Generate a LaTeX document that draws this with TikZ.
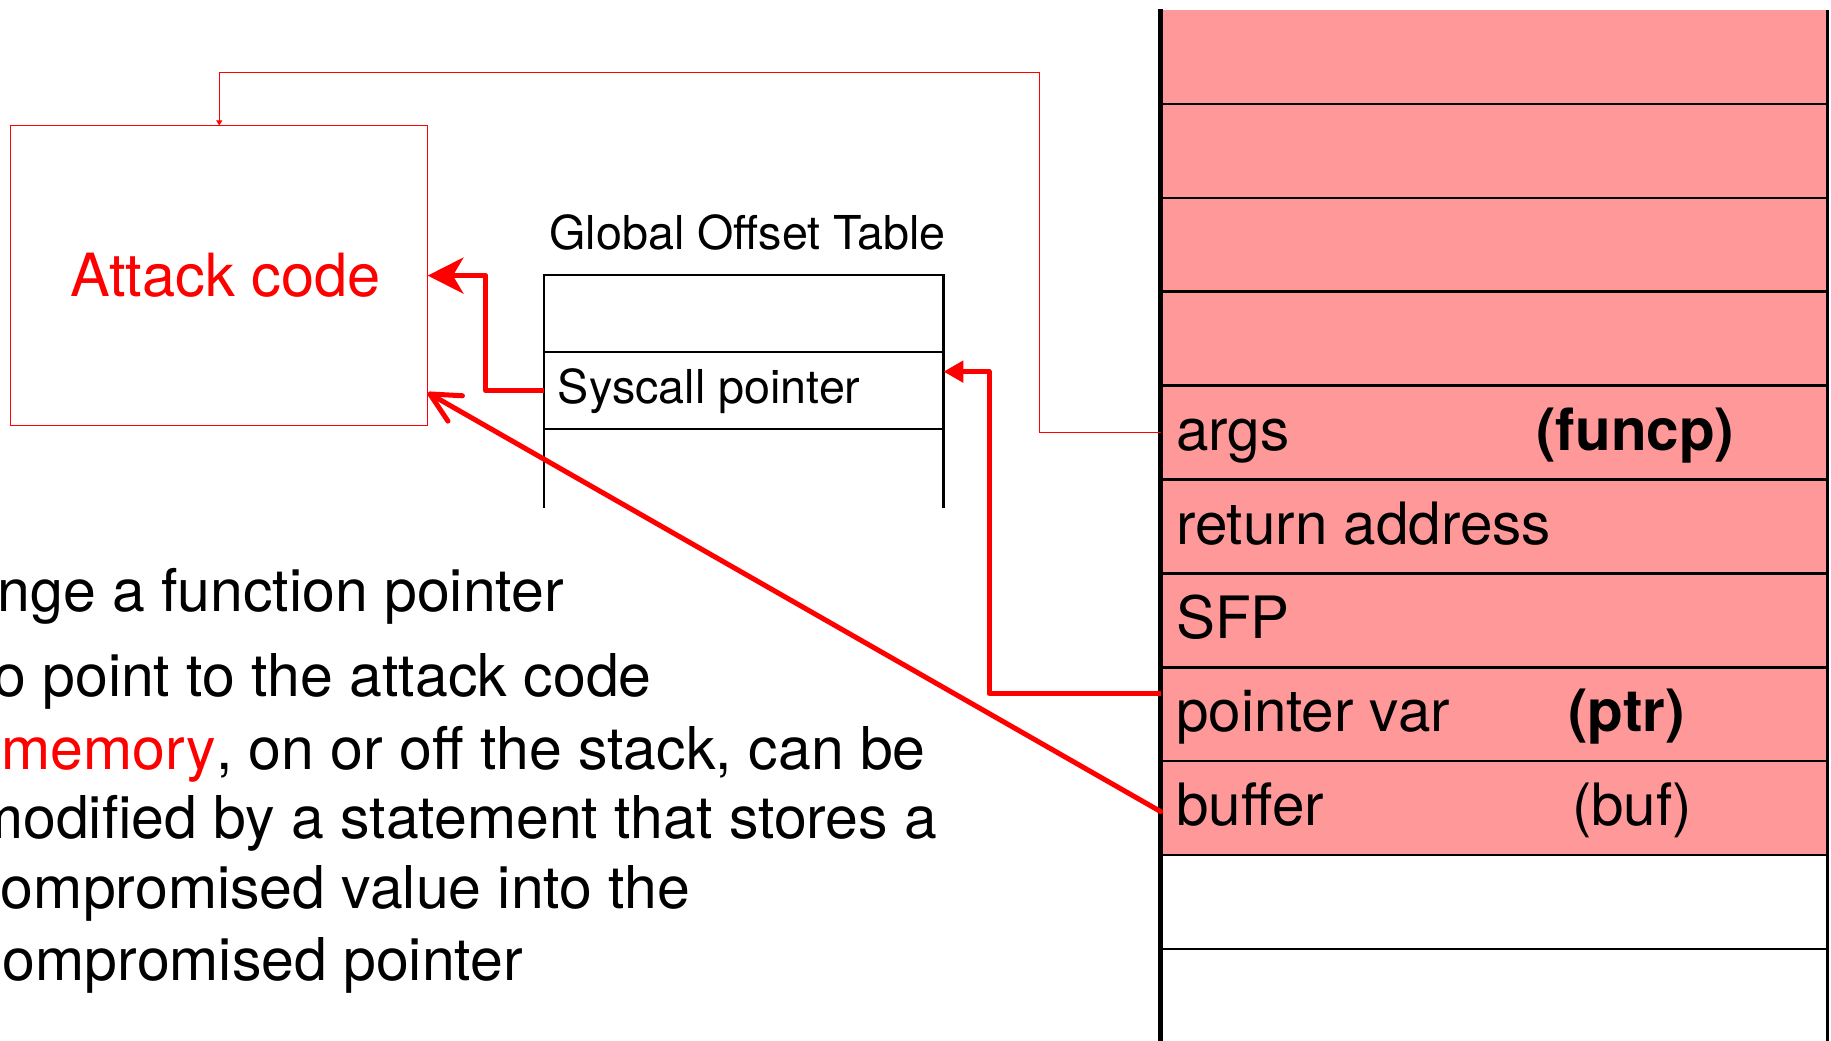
\documentclass[tikz,border=0pt]{standalone}
\usepackage{fontspec}
\setmainfont{TeX Gyre Heros}
\usetikzlibrary{arrows.meta}
\definecolor{stackpink}{RGB}{255,153,153}
\definecolor{hotred}{RGB}{255,0,0}
\begin{document}
\begin{tikzpicture}[x=1pt,y=-1pt,
  row/.style={minimum width=571pt, minimum height=80.4pt, inner sep=0pt, outer sep=0pt},
  rowline/.style={line width=2.2pt},
  gotcell/.style={minimum width=342.4pt, inner sep=0pt, outer sep=0pt},
  gotline/.style={line width=1.8pt},
  stacktxt/.style={anchor=base west, inner sep=0pt, font=\fontsize{50}{60}\selectfont},
  bodytxt/.style={anchor=base east, inner sep=0pt, font=\fontsize{50.5}{60}\selectfont},
  gottxt/.style={anchor=base west, inner sep=0pt, font=\fontsize{40}{48}\selectfont},
  bigarrow/.style={hotred, line width=4.3pt, line join=round},
  thinarrow/.style={hotred, line width=1pt},
]
\useasboundingbox (0,0) rectangle (1568,891);
\clip (0,0) rectangle (1568,891);

% stack frame: nine filled slots above two empty ones
\foreach \k in {0,...,8}
  \node[row, fill=stackpink] (s\k) at (1279.5, {8.6+80.4*(\k+0.5)}) {};
\foreach \k in {9,10}
  \node[row] (s\k) at (1279.5, {8.6+80.4*(\k+0.5)}) {};
\foreach \k in {1,...,10}
  \draw[rowline] (s\k.north west) -- (s\k.north east);
\draw[line width=4.5pt] ([yshift=0.6pt]s0.north west) -- (s10.south west);
\draw[line width=3pt] (s0.north east) -- (s10.south east);

% slot labels
\node[stacktxt] (targs)  at (1007, 385.5) {args};
\node[stacktxt] (tfuncp) at (1315.6, 385.5) {\bfseries (funcp)};
\node[stacktxt] (tret)   at (1007, 466) {return address};
\node[stacktxt] (tsfp)   at (1007, 546.6) {SFP};
\node[stacktxt] (tptrv)  at (1007, 626.6) {pointer var};
\node[stacktxt] (tptr)   at (1343, 626.6) {\bfseries (ptr)};
\node[stacktxt] (tbuf)   at (1007, 706.5) {buffer};
\node[stacktxt] (tbufn)  at (1346, 706.5) {(buf)};

% global offset table
\node[gotcell, draw, gotline, minimum height=66.2pt] (g0) at (636.8, 268.6) {};
\node[gotcell, draw, gotline, minimum height=65.7pt] (g1) at (636.8, 334.55) {};
\node[gotcell, minimum height=67.6pt] (g2) at (636.8, 401.2) {};
\draw[gotline] (g2.north west) -- (g2.south west);
\draw[gotline] (g2.north east) -- (g2.south east);
\node[gottxt] (gotlbl) at (470.4, 213.5) {Global Offset Table};
\node[gottxt] (sysc)   at (477.6, 345.4) {Syscall pointer};

% attack code region
\node[draw=hotred, line width=1pt, minimum width=357pt, minimum height=256.8pt,
      inner sep=0pt, outer sep=0pt] (attack) at (187.75, 236) {};
\node[anchor=base west, inner sep=0pt, text=hotred, font=\fontsize{51}{60}\selectfont]
     (atxt) at (60, 254) {Attack code};

% explanatory text
\node[bodytxt] (l1) at (483, 523.8)   {nge a function pointer};
\node[bodytxt] (l2) at (558.2, 596.6) {o point to the attack code};
\node[bodytxt] (l3) at (793, 658.6)   {\textcolor{hotred}{memory}, on or off the stack, can be};
\node[bodytxt] (l4) at (802.9, 718)   {modified by a statement that stores a};
\node[bodytxt] (l5) at (591.5, 777.9) {ompromised value into the};
\node[bodytxt] (l6) at (447.9, 839.3) {ompromised pointer};

% pointers
\draw[thinarrow, -{Triangle[length=4.5pt, width=5pt]}]
  (s4.west) -- ++(-103.7,0) |- ([yshift=45.4pt]attack.north) -- (attack.north);
\draw[bigarrow, -{Stealth[length=30.6pt, width=30.8pt, inset=9pt]}]
  (g1.west) -- ++(-49.6,0) |- (attack.east);
\draw[bigarrow, -{Triangle[length=17pt, width=18pt]}]
  ([yshift=17.8pt]s7.west) -- ++(-147,0) |- ([yshift=16.3pt]g1.east);
\draw[bigarrow, line cap=round, -{Straight Barb[length=25pt, width=25pt, round]}]
  ([yshift=-3pt]s8.west) -- ([yshift=-100.3pt]attack.east);
\end{tikzpicture}
\end{document}
